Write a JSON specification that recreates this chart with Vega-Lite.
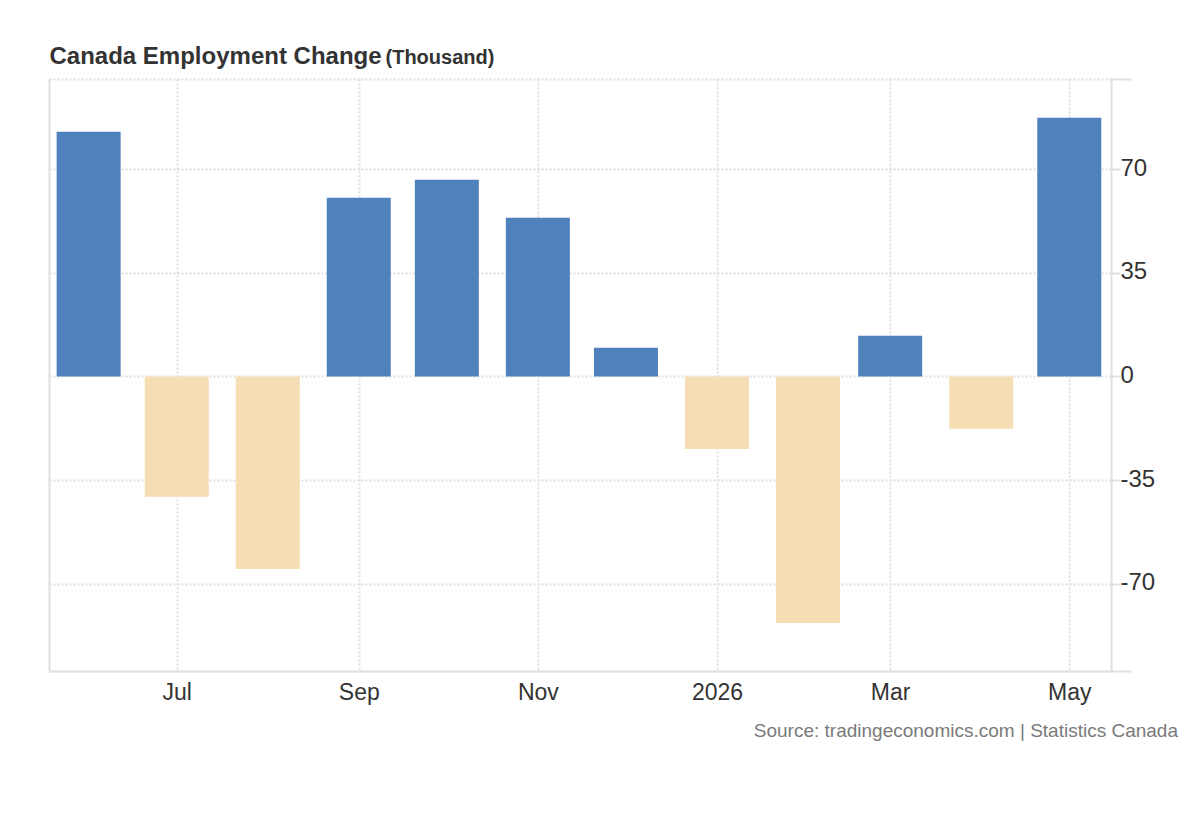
{
  "$schema": "https://vega.github.io/schema/vega-lite/v6.json",
  "width": 1062,
  "height": 592,
  "autosize": {"type": "none"},
  "padding": {"left": 49, "top": 79, "right": 89, "bottom": 149},
  "background": "white",
  "config": {"font": "Liberation Sans", "view": {"stroke": null}},
  "title": {
    "text": "Source: tradingeconomics.com | Statistics Canada",
    "orient": "bottom",
    "anchor": "end",
    "frame": "group",
    "dx": 67,
    "offset": 18,
    "fontSize": 19,
    "fontWeight": "normal",
    "color": "#7a7a7a"
  },
  "data": {
    "values": [
      {"date": "2025-06-01", "value": 82.7},
      {"date": "2025-07-01", "value": -40.6},
      {"date": "2025-08-01", "value": -65.0},
      {"date": "2025-09-01", "value": 60.4},
      {"date": "2025-10-01", "value": 66.5},
      {"date": "2025-11-01", "value": 53.6},
      {"date": "2025-12-01", "value": 9.7},
      {"date": "2026-01-01", "value": -24.5},
      {"date": "2026-02-01", "value": -83.3},
      {"date": "2026-03-01", "value": 13.8},
      {"date": "2026-04-01", "value": -17.7},
      {"date": "2026-05-01", "value": 87.4}
    ]
  },
  "encoding": {
    "x": {
      "field": "date",
      "type": "temporal",
      "scale": {
        "type": "utc",
        "padding": 0,
        "domain": [
          {"year": 2025, "month": 5, "date": 18, "hours": 12, "utc": true},
          {"year": 2026, "month": 5, "date": 15, "hours": 5, "utc": true}
        ]
      },
      "axis": {
        "title": "Canada Employment Change",
        "titleX": 0,
        "titleY": -608,
        "titleAlign": "left",
        "titleBaseline": "alphabetic",
        "titleFontSize": 24,
        "titleFontWeight": "bold",
        "titleColor": "#333333",
        "tickCount": {"interval": "month", "step": 2},
        "labelExpr": "utcFormat(datum.value, '%m') == '01' ? utcFormat(datum.value, '%Y') : utcFormat(datum.value, '%b')",
        "labelFontSize": 23,
        "labelColor": "#333333",
        "labelPadding": 10,
        "ticks": false,
        "domainColor": "#e0e0e0",
        "domainWidth": 2,
        "grid": true,
        "gridColor": "#e0e0e0",
        "gridDash": [2, 2],
        "gridWidth": 2
      }
    }
  },
  "layer": [
    {
      "transform": [{"filter": "datum.value >= 0"}],
      "mark": {"type": "bar", "width": 64, "color": "#4f81bd"},
      "encoding": {
        "y": {
          "field": "value",
          "type": "quantitative",
          "scale": {"domain": [-99.5, 100.5], "nice": false, "zero": false},
          "axis": {
            "orient": "right",
            "title": "(Thousand)",
            "titleAngle": 0,
            "titleX": -726,
            "titleY": -16,
            "titleAlign": "left",
            "titleBaseline": "alphabetic",
            "titleFontSize": 20,
            "titleFontWeight": "bold",
            "titleColor": "#333333",
            "values": [-99.5, -70, -35, 0, 35, 70, 100.5],
            "labelExpr": "abs(datum.value) > 90 ? '' : toString(datum.value)",
            "labelFontSize": 24,
            "labelColor": "#333333",
            "labelPadding": 0,
            "labelOffset": -1,
            "tickSize": {"condition": {"test": "abs(datum.value) > 90", "value": 20}, "value": 9},
            "tickColor": "#e0e0e0",
            "tickWidth": 2,
            "domainColor": "#e0e0e0",
            "domainWidth": 2,
            "grid": true,
            "gridColor": "#e0e0e0",
            "gridDash": [2, 2],
            "gridWidth": 2
          }
        }
      }
    },
    {
      "transform": [{"filter": "datum.value < 0"}],
      "mark": {"type": "bar", "width": 64, "color": "#f5deb3"},
      "encoding": {
        "y": {
          "field": "value",
          "type": "quantitative",
          "scale": {"domain": [-99.5, 100.5], "nice": false, "zero": false},
          "axis": {
            "orient": "left",
            "title": null,
            "labels": false,
            "ticks": false,
            "grid": false,
            "domainColor": "#e0e0e0",
            "domainWidth": 2
          }
        }
      }
    }
  ],
  "resolve": {"axis": {"y": "independent"}}
}
